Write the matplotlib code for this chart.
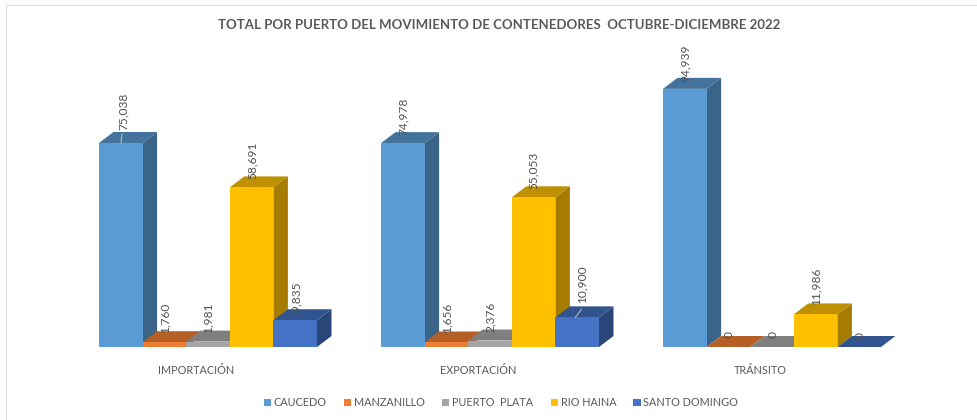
import matplotlib
matplotlib.use("Agg")
import matplotlib.pyplot as plt
from matplotlib.lines import Line2D
from matplotlib.patches import Polygon, Rectangle
from matplotlib.transforms import ScaledTranslation

categories = ["IMPORTACIÓN", "EXPORTACIÓN", "TRÁNSITO"]
ports = ["CAUCEDO", "MANZANILLO", "PUERTO  PLATA", "RIO HAINA", "SANTO DOMINGO"]
caucedo = [75038, 74978, 94939]
manzanillo = [1760, 1656, 0]
puerto_plata = [1981, 2376, 0]
rio_haina = [58691, 55053, 11986]
santo_domingo = [9835, 10900, 0]
series = [caucedo, manzanillo, puerto_plata, rio_haina, santo_domingo]

# front, side, top colours per port
front = ["#5B9BD5", "#ED7D31", "#A5A5A5", "#FFC000", "#4472C4"]
side = ["#3A6488", "#A35622", "#727272", "#A67C00", "#2A4678"]
top = ["#43729D", "#B55F26", "#7F7F7F", "#BF9000", "#31548F"]
text_gray = "#595959"

W, H = 977, 420
plt.rcParams["font.family"] = ["Lato", "DejaVu Sans"]
fig = plt.figure(figsize=(W / 100, H / 100), dpi=100)

# axes placed so one category is 282 px and the baseline sits at y=347 px
left_px, right_px, base_px, top_px = 67, 913, 347, 60
ax = fig.add_axes([left_px / W, 1 - base_px / H, (right_px - left_px) / W, (base_px - top_px) / H])
ax.set_xlim(-0.5, 2.5)
ax.set_ylim(0, (base_px - top_px) / 0.002719)
ax.axis("off")

bar_w = 43.6 / 282
depth_x = 14.5 / 282
depth_y = 11 / 0.002719

# label nudges in px (dx from bar left, dy above front top), one per bar
label_dx = [[24, 22, 22, 22, 23], [22, 22, 22, 21, 27], [22, 23, 23, 22, 23]]
label_dy = [[13, 9, 9, 8, 8], [8, 9, 9, 8, 14], [7, 9, 9, 9, 8]]

# leader lines: category, series, start and end in px from bar left / front top
leaders = [(0, 0, 22, 0, 23, 9), (1, 4, 20, 0, 26, 8)]

for i, vals in enumerate(series):
    for c, v in enumerate(vals):
        x0 = c + (i - 2.5) * bar_w
        x1 = x0 + bar_w
        ax.add_patch(Polygon([(x1, 0), (x1 + depth_x, depth_y), (x1 + depth_x, v + depth_y), (x1, v)],
                             fc=side[i], ec="none", clip_on=False))
        ax.add_patch(Polygon([(x0, v), (x1, v), (x1 + depth_x, v + depth_y), (x0 + depth_x, v + depth_y)],
                             fc=top[i], ec="none", clip_on=False))
        ax.bar(x0, v, bar_w, align="edge", color=front[i], edgecolor="none", zorder=2)
        off = ScaledTranslation(label_dx[c][i] / 100, label_dy[c][i] / 100, fig.dpi_scale_trans)
        ax.text(x0, v, f"{v:,}", rotation=90, ha="center", va="bottom", fontsize=8.6, color="#505050",
                transform=ax.transData + off, clip_on=False, zorder=5)

for c, i, sx, sy, ex, ey in leaders:
    x0 = c + (i - 2.5) * bar_w
    v = series[i][c]
    ax.add_line(Line2D([x0 + sx / 282, x0 + ex / 282], [v + sy / 0.002719, v + ey / 0.002719],
                       color="#B5B5B5", lw=0.8, clip_on=False, zorder=4))

for c, name in enumerate(categories):
    fx = (left_px + (c + 0.5) * 282 - 12) / W
    fig.text(fx, 1 - 371 / H, name, ha="center", va="center", fontsize=7.8, color=text_gray)

fig.text(499 / W, 1 - 25 / H, "TOTAL POR PUERTO DEL MOVIMIENTO DE CONTENEDORES  OCTUBRE-DICIEMBRE 2022",
         ha="center", va="center", fontsize=9.57, fontweight="bold", color=text_gray)

handles = [Rectangle((0, 0), 1, 1, fc=col, ec="none") for col in front]
fig.legend(handles, ports, loc="center", bbox_to_anchor=(501 / W, 1 - 403 / H), ncol=5, frameon=False,
           fontsize=7.8, labelcolor=text_gray, handlelength=0.65, handleheight=0.65, handletextpad=0.27,
           columnspacing=1.6, borderpad=0, borderaxespad=0)

# chart frame, only the top and left edges are inside the crop
fig.add_artist(Line2D([5.5 / W, 5.5 / W, 1], [0, 1 - 4.5 / H, 1 - 4.5 / H], color="#E2E2E2", lw=1.0))

fig.savefig("out.png", dpi=100)
